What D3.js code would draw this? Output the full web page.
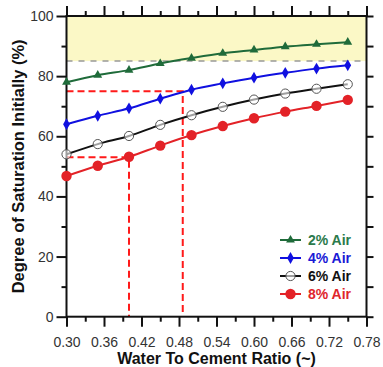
<!DOCTYPE html>
<html>
<head>
<meta charset="utf-8">
<script src="https://cdn.jsdelivr.net/npm/d3@7"></script>
<style>
    body { margin: 0; background: #fff; }
    svg { display: block; font-family: "Liberation Sans", Arial, sans-serif; }
    .tick text { fill: #333; font-size: 14px; }
    .domain { display: none; }
</style>
</head>
<body>
<div id="chart"></div>
<script>
'use strict';

const ratios = [0.30, 0.35, 0.40, 0.45, 0.50, 0.55, 0.60, 0.65, 0.70, 0.75];

const air2 = [78.0, 80.3, 82.0, 84.2, 86.0, 87.6, 88.7, 89.8, 90.6, 91.3];
const air4 = [64.0, 66.8, 69.3, 72.5, 75.5, 77.6, 79.5, 81.1, 82.5, 83.6];
const air6 = [54.0, 57.4, 60.1, 63.8, 67.0, 69.8, 72.2, 74.2, 75.8, 77.3];
const air8 = [46.8, 50.2, 53.2, 56.9, 60.4, 63.4, 66.0, 68.2, 70.1, 72.1];

const seriesNames = ["2% Air", "4% Air", "6% Air", "8% Air"];

const xMajorTicks = [0.30, 0.36, 0.42, 0.48, 0.54, 0.60, 0.66, 0.72, 0.78];
const xMinorTicks = [0.33, 0.39, 0.45, 0.51, 0.57, 0.63, 0.69, 0.75];
const yMajorTicks = [0, 20, 40, 60, 80, 100];
const yMinorTicks = [10, 30, 50, 70, 90];

// saturation limit band and the two read-off guides
const limitValue = 85;
const guideLow = { x: 0.40, y: 53 };
const guideHigh = { x: 0.486, y: 75 };

const styles = [
    { color: "#1f6b3a", text: "#2b7a4b", marker: "triangle" },
    { color: "#1010e0", text: "#1a1ad6", marker: "diamond" },
    { color: "#111111", text: "#111111", marker: "open" },
    { color: "#e32227", text: "#e0262b", marker: "dot" }
];

const width = 383, height = 367;
const margin = { top: 16, right: 16.5, bottom: 50.3, left: 66.5 };
const innerW = width - margin.left - margin.right;
const innerH = height - margin.top - margin.bottom;

const svg = d3.select("#chart")
    .append("svg")
    .attr("width", width)
    .attr("height", height);

const g = svg.append("g")
    .attr("transform", "translate(" + margin.left + "," + margin.top + ")");

const x = d3.scaleLinear().domain([0.30, 0.78]).range([0, innerW]);
const y = d3.scaleLinear().domain([0, 100]).range([innerH, 0]);

// yellow band above the limit
g.append("rect")
    .attr("x", 0)
    .attr("y", y(100))
    .attr("width", innerW)
    .attr("height", y(limitValue) - y(100))
    .attr("fill", "#fbf8c6");

g.append("line")
    .attr("x1", 0).attr("x2", innerW)
    .attr("y1", y(limitValue)).attr("y2", y(limitValue))
    .attr("stroke", "#999")
    .attr("stroke-width", 1.5)
    .attr("stroke-dasharray", "6,6");

// red guide lines
const drawGuide = (p) => {
    const path = d3.path();
    path.moveTo(x(0.30), y(p.y));
    path.lineTo(x(p.x), y(p.y));
    path.lineTo(x(p.x), y(0));
    g.append("path")
        .attr("d", path.toString())
        .attr("fill", "none")
        .attr("stroke", "#ff1a1a")
        .attr("stroke-width", 2)
        .attr("stroke-dasharray", "7,4");
}
drawGuide(guideHigh);
drawGuide(guideLow);

// axes
const tickStyle = (sel) => {
    sel.selectAll(".tick line").attr("stroke", "#111").attr("stroke-width", 2);
}

g.append("g").attr("transform", "translate(0," + innerH + ")")
    .call(d3.axisBottom(x).tickValues(xMajorTicks).tickSize(10).tickPadding(10.5).tickFormat(d3.format(".2f")))
    .call(tickStyle);
g.append("g").attr("transform", "translate(0," + innerH + ")")
    .call(d3.axisBottom(x).tickValues(xMinorTicks).tickSize(5).tickFormat(""))
    .call(tickStyle);
g.append("g")
    .call(d3.axisTop(x).tickValues(xMajorTicks).tickSize(10).tickFormat(""))
    .call(tickStyle);
g.append("g")
    .call(d3.axisTop(x).tickValues(xMinorTicks).tickSize(5).tickFormat(""))
    .call(tickStyle);

g.append("g")
    .call(d3.axisLeft(y).tickValues(yMajorTicks).tickSize(10).tickPadding(3))
    .call(tickStyle);
g.append("g")
    .call(d3.axisLeft(y).tickValues(yMinorTicks).tickSize(5).tickFormat(""))
    .call(tickStyle);
g.append("g").attr("transform", "translate(" + innerW + ",0)")
    .call(d3.axisRight(y).tickValues(yMajorTicks.concat(yMinorTicks)).tickSize(7).tickFormat(""))
    .call(tickStyle);

g.append("rect")
    .attr("width", innerW)
    .attr("height", innerH)
    .attr("fill", "none")
    .attr("stroke", "#111")
    .attr("stroke-width", 2);

// series
const allSeries = [air2, air4, air6, air8];

const line = d3.line()
    .x((d, i) => x(ratios[i]))
    .y(d => y(d))
    .curve(d3.curveMonotoneX);

const drawMarker = (sel, style) => {
    if (style.marker === "triangle") {
        sel.append("path")
            .attr("d", d3.symbol().type(d3.symbolTriangle).size(34))
            .attr("fill", style.color);
    } else if (style.marker === "diamond") {
        sel.append("path")
            .attr("d", d3.symbol().type(d3.symbolDiamond).size(40))
            .attr("fill", style.color);
    } else if (style.marker === "open") {
        sel.append("circle")
            .attr("r", 4.6)
            .attr("fill", "#fff")
            .attr("fill-opacity", 0.6)
            .attr("stroke", "#555")
            .attr("stroke-width", 1);
    } else {
        sel.append("circle")
            .attr("r", 5.2)
            .attr("fill", style.color);
    }
}

allSeries.forEach((values, k) => {
    const style = styles[k];
    g.append("path")
        .datum(values)
        .attr("d", line)
        .attr("fill", "none")
        .attr("stroke", style.color)
        .attr("stroke-width", 2);

    g.selectAll(".m" + k)
        .data(values)
        .enter()
        .append("g")
        .attr("class", "m" + k)
        .attr("transform", (d, i) => "translate(" + x(ratios[i]) + "," + y(d) + ")")
        .each(function () { drawMarker(d3.select(this), style); });
});

// legend
const legend = g.append("g").attr("transform", "translate(" + (280 - margin.left) + "," + (240 - margin.top) + ")");
seriesNames.forEach((name, k) => {
    const style = styles[k];
    const row = legend.append("g").attr("transform", "translate(0," + (k * 18) + ")");
    row.append("line")
        .attr("x1", 0).attr("x2", 21)
        .attr("stroke", style.color)
        .attr("stroke-width", 2);
    drawMarker(row.append("g").attr("transform", "translate(10.5,0)"), style);
    row.append("text")
        .attr("x", 28)
        .attr("dy", "0.36em")
        .attr("fill", style.text)
        .style("font-size", "14px")
        .style("font-weight", "bold")
        .text(name);
});

// axis titles
svg.append("text")
    .attr("x", margin.left + innerW / 2)
    .attr("y", 364)
    .attr("text-anchor", "middle")
    .style("font-size", "16px")
    .style("font-weight", "bold")
    .attr("fill", "#111")
    .text("Water To Cement Ratio (~)");

svg.append("text")
    .attr("transform", "translate(23.5," + (margin.top + innerH / 2) + ") rotate(-90)")
    .attr("text-anchor", "middle")
    .style("font-size", "16.5px")
    .style("font-weight", "bold")
    .attr("fill", "#111")
    .text("Degree of Saturation Initially (%)");
</script>
</body>
</html>
